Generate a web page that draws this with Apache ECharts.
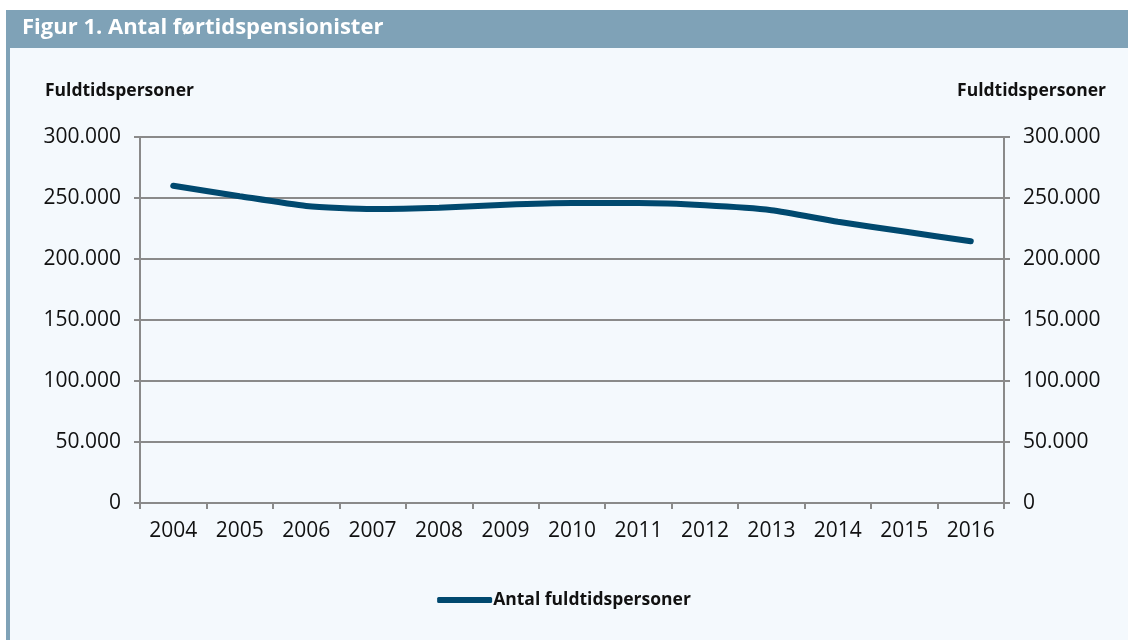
<!DOCTYPE html>
<html>
<head>
<meta charset="utf-8">
<script src="https://cdn.jsdelivr.net/npm/echarts@6/dist/echarts.min.js"></script>
<style>
  html, body { margin: 0; padding: 0; background: #ffffff; }
  #chart { width: 1128px; height: 640px; }
</style>
</head>
<body>
<div id="chart"></div>
<script>
// Antal førtidspensionister, fuldtidspersoner
const years = ['2004', '2005', '2006', '2007', '2008', '2009', '2010', '2011', '2012', '2013', '2014', '2015', '2016'];
const fuldtidspersoner = [260000, 251500, 243500, 241000, 242000, 244500, 245800, 245800, 244000, 240000, 230500, 222500, 214500];
const seriesName = 'Antal fuldtidspersoner';
const titleText = 'Figur 1. Antal førtidspensionister';
const axisTitle = 'Fuldtidspersoner';

const FONT = '"Open Sans", sans-serif';
const fmt = v => String(v).replace(/\B(?=(\d{3})+(?!\d))/g, '.');

const chart = echarts.init(document.getElementById('chart'));

const yAxisBase = {
  type: 'value',
  min: 0,
  max: 300000,
  interval: 50000,
  axisLine: { show: true, lineStyle: { color: '#8a8a8a', width: 2 } },
  axisTick: { show: true, length: 6, lineStyle: { color: '#8a8a8a', width: 2 } },
  axisLabel: { color: '#111', fontSize: 21, fontFamily: FONT, margin: 19, formatter: fmt },
};

const option = {
  backgroundColor: '#ffffff',
  textStyle: { fontFamily: FONT },
  graphic: [
    { type: 'rect', shape: { x: 6, y: 10, width: 1122, height: 630 }, style: { fill: '#f4f9fd' }, z: -10 },
    { type: 'rect', shape: { x: 6, y: 10, width: 1122, height: 38 }, style: { fill: '#7fa2b7' }, z: -9 },
    { type: 'rect', shape: { x: 6, y: 10, width: 4, height: 630 }, style: { fill: '#7fa2b7' }, z: -9 },
    { type: 'text', left: 22, top: 17, style: { text: titleText, fill: '#ffffff', font: 'bold 22px ' + FONT } },
    { type: 'text', left: 45, top: 82, style: { text: axisTitle, fill: '#111', font: 'bold 17.5px ' + FONT } },
    { type: 'text', right: 22, top: 82, style: { text: axisTitle, fill: '#111', font: 'bold 17.5px ' + FONT } },
  ],
  grid: { left: 140, right: 124, top: 137, bottom: 137, containLabel: false },
  legend: {
    bottom: 26,
    left: 'center',
    itemWidth: 55,
    itemHeight: 6,
    itemGap: 0,
    textStyle: { color: '#111', fontSize: 17.5, fontWeight: 'bold', fontFamily: FONT, padding: [0, 0, 0, -4] },
    data: [{ name: seriesName, icon: 'roundRect' }],
  },
  xAxis: {
    type: 'category',
    data: years,
    boundaryGap: true,
    axisLine: { lineStyle: { color: '#8a8a8a', width: 2 } },
    axisTick: { show: true, length: 6, lineStyle: { color: '#8a8a8a', width: 2 } },
    axisLabel: { color: '#111', fontSize: 21, fontFamily: FONT, margin: 18 },
    splitLine: { show: false },
  },
  yAxis: [
    Object.assign({}, yAxisBase, {
      position: 'left',
      splitLine: { show: true, lineStyle: { color: '#8a8a8a', width: 2 } },
    }),
    Object.assign({}, yAxisBase, {
      position: 'right',
      splitLine: { show: false },
    }),
  ],
  series: [
    {
      name: seriesName,
      type: 'line',
      data: fuldtidspersoner,
      yAxisIndex: 0,
      smooth: 0.2,
      symbol: 'none',
      lineStyle: { color: '#00496f', width: 6, cap: 'round' },
      itemStyle: { color: '#00496f' },
    },
  ],
};

chart.setOption(option);
</script>
</body>
</html>
